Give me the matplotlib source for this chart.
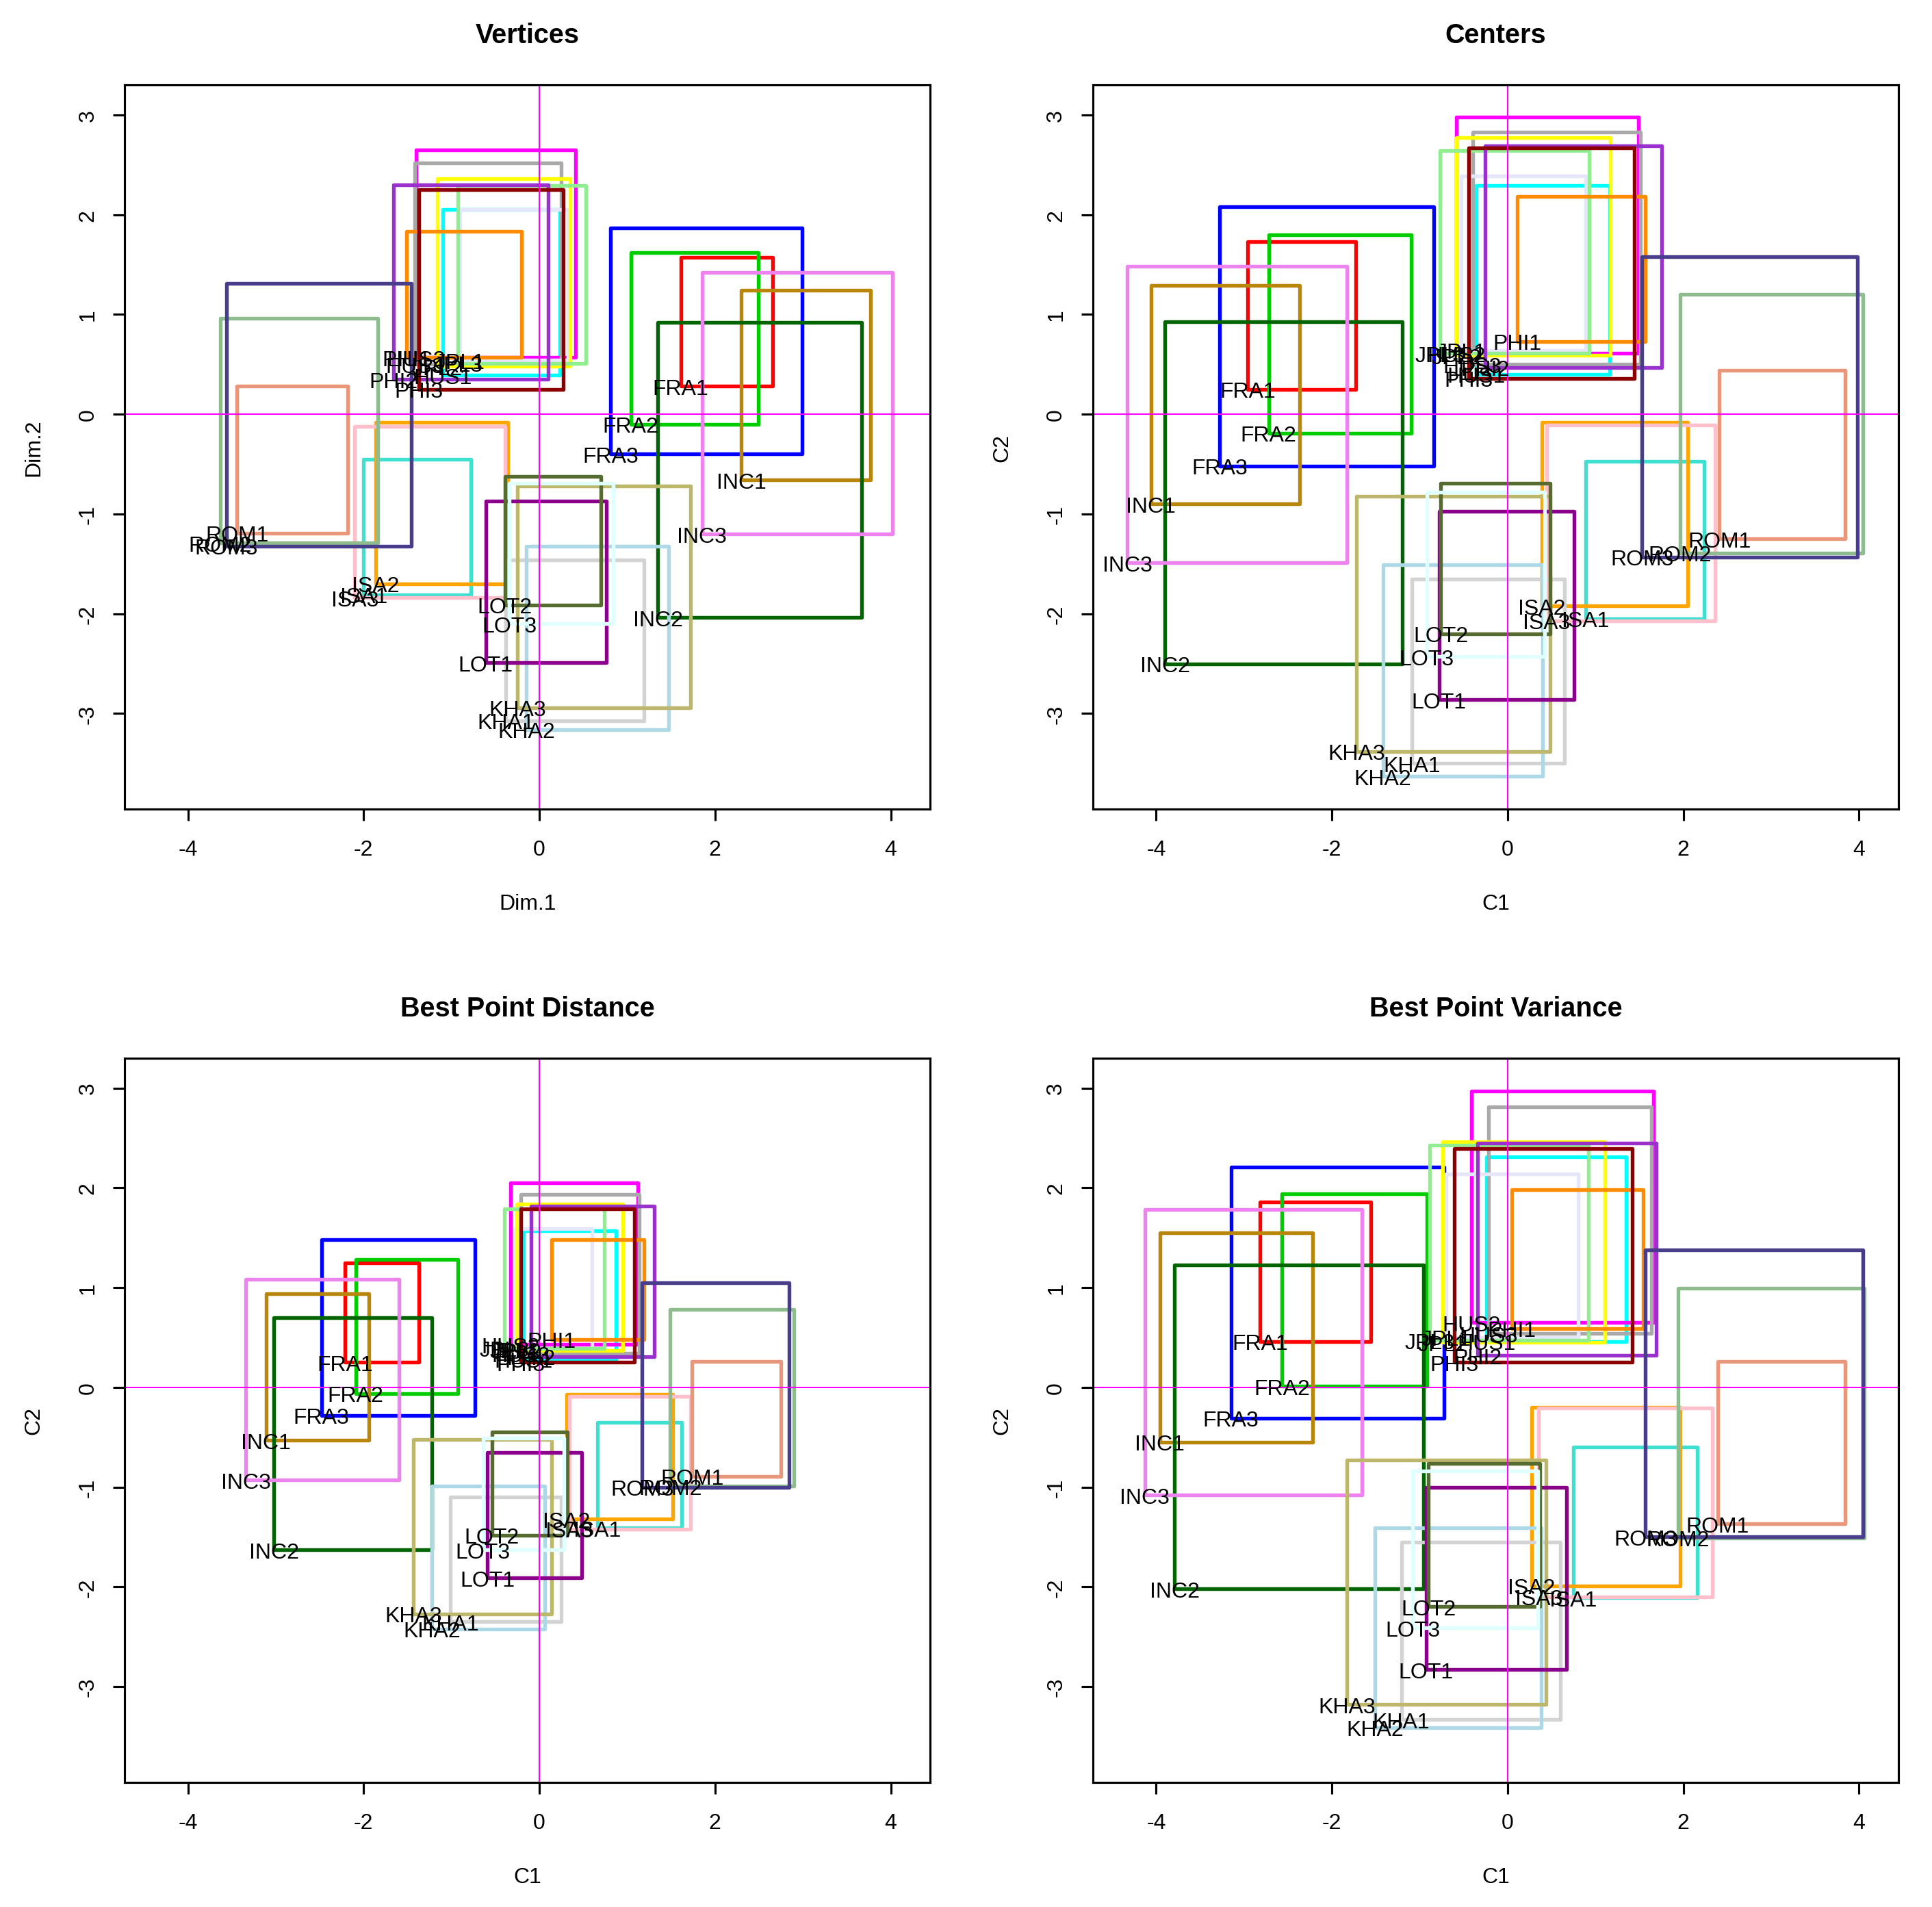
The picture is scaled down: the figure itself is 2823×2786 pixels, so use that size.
import matplotlib
matplotlib.use("Agg")
import matplotlib.pyplot as plt
from matplotlib.patches import Rectangle

plt.rcParams["font.family"] = ["Liberation Sans", "DejaVu Sans"]
plt.rcParams["axes.unicode_minus"] = False

names = ["FRA1", "FRA2", "FRA3", "HUS1", "HUS2", "HUS3", "INC1", "INC2", "INC3",
         "ISA1", "ISA2", "ISA3", "JPL1", "JPL2", "JPL3", "KHA1", "KHA2", "KHA3",
         "LOT1", "LOT2", "LOT3", "PHI1", "PHI2", "PHI3", "ROM1", "ROM2", "ROM3"]
colors = ["red", "#00CD00", "blue", "cyan", "magenta", "darkgray", "darkgoldenrod",
          "darkgreen", "violet", "turquoise", "orange", "pink", "lavender", "yellow",
          "lightgreen", "lightgray", "lightblue", "darkkhaki", "darkmagenta",
          "darkolivegreen", "lightcyan", "darkorange", "darkorchid", "darkred",
          "darksalmon", "darkseagreen", "darkslateblue"]

# Vertices
vert_x0 = [1.61, 1.04, 0.81, -1.10, -1.40, -1.42, 2.30, 1.35, 1.85, -2.00, -1.86, -2.10, -0.90, -1.16,
           -0.93, -0.38, -0.15, -0.25, -0.61, -0.39, -0.34, -1.51, -1.66, -1.37, -3.44, -3.63, -3.56]
vert_x1 = [2.66, 2.49, 2.99, 0.23, 0.41, 0.25, 3.77, 3.67, 4.02, -0.78, -0.36, -0.39, 0.33, 0.35,
           0.53, 1.19, 1.47, 1.72, 0.76, 0.70, 0.84, -0.20, 0.10, 0.27, -2.18, -1.84, -1.46]
vert_y0 = [0.28, -0.10, -0.40, 0.39, 0.57, 0.50, -0.66, -2.04, -1.20, -1.81, -1.70, -1.84, 0.54, 0.48,
           0.51, -3.07, -3.16, -2.94, -2.49, -1.91, -2.10, 0.57, 0.35, 0.25, -1.19, -1.29, -1.32]
vert_y1 = [1.57, 1.62, 1.87, 2.05, 2.65, 2.52, 1.24, 0.92, 1.42, -0.45, -0.08, -0.12, 2.05, 2.36,
           2.29, -1.46, -1.32, -0.72, -0.87, -0.62, -0.69, 1.83, 2.30, 2.25, 0.28, 0.96, 1.31]

# Centers
cent_x0 = [-2.96, -2.72, -3.28, -0.36, -0.58, -0.40, -4.06, -3.90, -4.33, 0.885, 0.39, 0.445, -0.53, -0.58,
           -0.77, -1.09, -1.42, -1.72, -0.78, -0.76, -0.92, 0.11, -0.26, -0.44, 2.41, 1.96, 1.53]
cent_x1 = [-1.73, -1.10, -0.84, 1.16, 1.49, 1.51, -2.37, -1.20, -1.83, 2.24, 2.05, 2.36, 0.885, 1.17,
           0.93, 0.65, 0.40, 0.48, 0.76, 0.485, 0.42, 1.57, 1.75, 1.44, 3.84, 4.04, 3.98]
cent_y0 = [0.25, -0.19, -0.52, 0.40, 0.61, 0.50, -0.90, -2.50, -1.49, -2.05, -1.92, -2.07, 0.64, 0.59,
           0.61, -3.50, -3.63, -3.38, -2.86, -2.20, -2.43, 0.73, 0.47, 0.36, -1.25, -1.39, -1.43]
cent_y1 = [1.73, 1.80, 2.08, 2.29, 2.98, 2.83, 1.29, 0.93, 1.48, -0.47, -0.08, -0.11, 2.39, 2.77,
           2.64, -1.65, -1.51, -0.82, -0.97, -0.69, -0.78, 2.18, 2.69, 2.67, 0.44, 1.20, 1.58]

# Best Point Distance
bpd_x0 = [-2.21, -2.09, -2.48, -0.18, -0.33, -0.21, -3.11, -3.02, -3.34, 0.66, 0.31, 0.34, -0.28, -0.26,
          -0.40, -1.01, -1.22, -1.43, -0.59, -0.54, -0.64, 0.14, -0.09, -0.21, 1.74, 1.49, 1.17]
bpd_x1 = [-1.37, -0.93, -0.73, 0.87, 1.12, 1.14, -1.94, -1.22, -1.60, 1.62, 1.52, 1.72, 0.60, 0.95,
          0.74, 0.25, 0.06, 0.14, 0.48, 0.32, 0.28, 1.19, 1.31, 1.08, 2.75, 2.90, 2.84]
bpd_y0 = [0.25, -0.06, -0.28, 0.28, 0.43, 0.34, -0.53, -1.63, -0.93, -1.41, -1.32, -1.42, 0.38, 0.37,
          0.39, -2.35, -2.42, -2.27, -1.91, -1.48, -1.63, 0.48, 0.31, 0.25, -0.89, -0.99, -1.00]
bpd_y1 = [1.25, 1.28, 1.48, 1.57, 2.05, 1.93, 0.94, 0.70, 1.08, -0.35, -0.07, -0.09, 1.59, 1.84,
          1.79, -1.10, -0.99, -0.52, -0.65, -0.45, -0.51, 1.48, 1.82, 1.79, 0.26, 0.78, 1.05]

# Best Point Variance
bpv_x0 = [-2.82, -2.57, -3.15, -0.24, -0.41, -0.22, -3.96, -3.79, -4.13, 0.75, 0.27, 0.355, -0.70, -0.74,
          -0.89, -1.21, -1.51, -1.83, -0.93, -0.90, -1.08, 0.045, -0.34, -0.61, 2.39, 1.94, 1.57]
bpv_x1 = [-1.56, -0.92, -0.72, 1.35, 1.66, 1.64, -2.22, -0.96, -1.66, 2.16, 1.96, 2.33, 0.80, 1.11,
          0.92, 0.60, 0.385, 0.44, 0.67, 0.37, 0.34, 1.54, 1.69, 1.42, 3.84, 4.06, 4.04]
bpv_y0 = [0.46, 0.01, -0.31, 0.46, 0.65, 0.54, -0.55, -2.02, -1.08, -2.11, -1.99, -2.10, 0.50, 0.45,
          0.47, -3.33, -3.41, -3.18, -2.83, -2.20, -2.41, 0.59, 0.32, 0.25, -1.37, -1.51, -1.50]
bpv_y1 = [1.86, 1.94, 2.21, 2.31, 2.97, 2.81, 1.55, 1.23, 1.78, -0.60, -0.20, -0.21, 2.14, 2.46,
          2.43, -1.55, -1.41, -0.73, -1.00, -0.76, -0.84, 1.98, 2.45, 2.39, 0.26, 0.99, 1.38]

panels = [
    ("Vertices", "Dim.1", "Dim.2", vert_x0, vert_x1, vert_y0, vert_y1),
    ("Centers", "C1", "C2", cent_x0, cent_x1, cent_y0, cent_y1),
    ("Best Point Distance", "C1", "C2", bpd_x0, bpd_x1, bpd_y0, bpd_y1),
    ("Best Point Variance", "C1", "C2", bpv_x0, bpv_x1, bpv_y0, bpv_y1),
]

# axes boxes in figure fractions
lefts = [0.0645, 0.5657]
bottoms = [0.5754, 0.0653]
width = 0.417
height = 0.3797

FS = 7.7

fig = plt.figure(figsize=(2823 / 300, 2787 / 300), dpi=300)

for i, (title, xl, yl, x0, x1, y0, y1) in enumerate(panels):
    ax = fig.add_axes([lefts[i % 2], bottoms[i // 2], width, height])
    for j in range(len(names)):
        ax.add_patch(Rectangle((x0[j], y0[j]), x1[j] - x0[j], y1[j] - y0[j],
                               fill=False, edgecolor=colors[j], lw=1.3,
                               joinstyle="round"))
    ax.axhline(0, color="magenta", lw=0.5)
    ax.axvline(0, color="magenta", lw=0.5)
    for j in range(len(names)):
        ax.text(x0[j], y0[j], names[j], ha="center", va="center_baseline",
                fontsize=FS, color="black")

    ax.set_xlim(-4.72, 4.45)
    ax.set_ylim(-3.96, 3.30)
    ax.set_xticks([-4, -2, 0, 2, 4])
    ax.set_yticks([-3, -2, -1, 0, 1, 2, 3])
    ax.tick_params(direction="out", length=4, width=0.75, labelsize=FS)
    ax.tick_params(axis="x", pad=6.5)
    ax.tick_params(axis="y", pad=5.3, labelrotation=90)
    for lbl in ax.get_yticklabels():
        lbl.set_va("center")
    for s in ax.spines.values():
        s.set_linewidth(0.75)

    ax.text(0.5, 1.069, title, transform=ax.transAxes, ha="center", va="center",
            fontsize=9.5, fontweight="bold")
    ax.set_xlabel(xl, fontsize=FS)
    ax.xaxis.set_label_coords(0.5, -0.13)
    ax.xaxis.label.set_va("center")
    ax.set_ylabel(yl, fontsize=FS)
    ax.yaxis.set_label_coords(-0.113, 0.5)
    ax.yaxis.label.set_va("center")

fig.savefig("out.png", dpi=300)
